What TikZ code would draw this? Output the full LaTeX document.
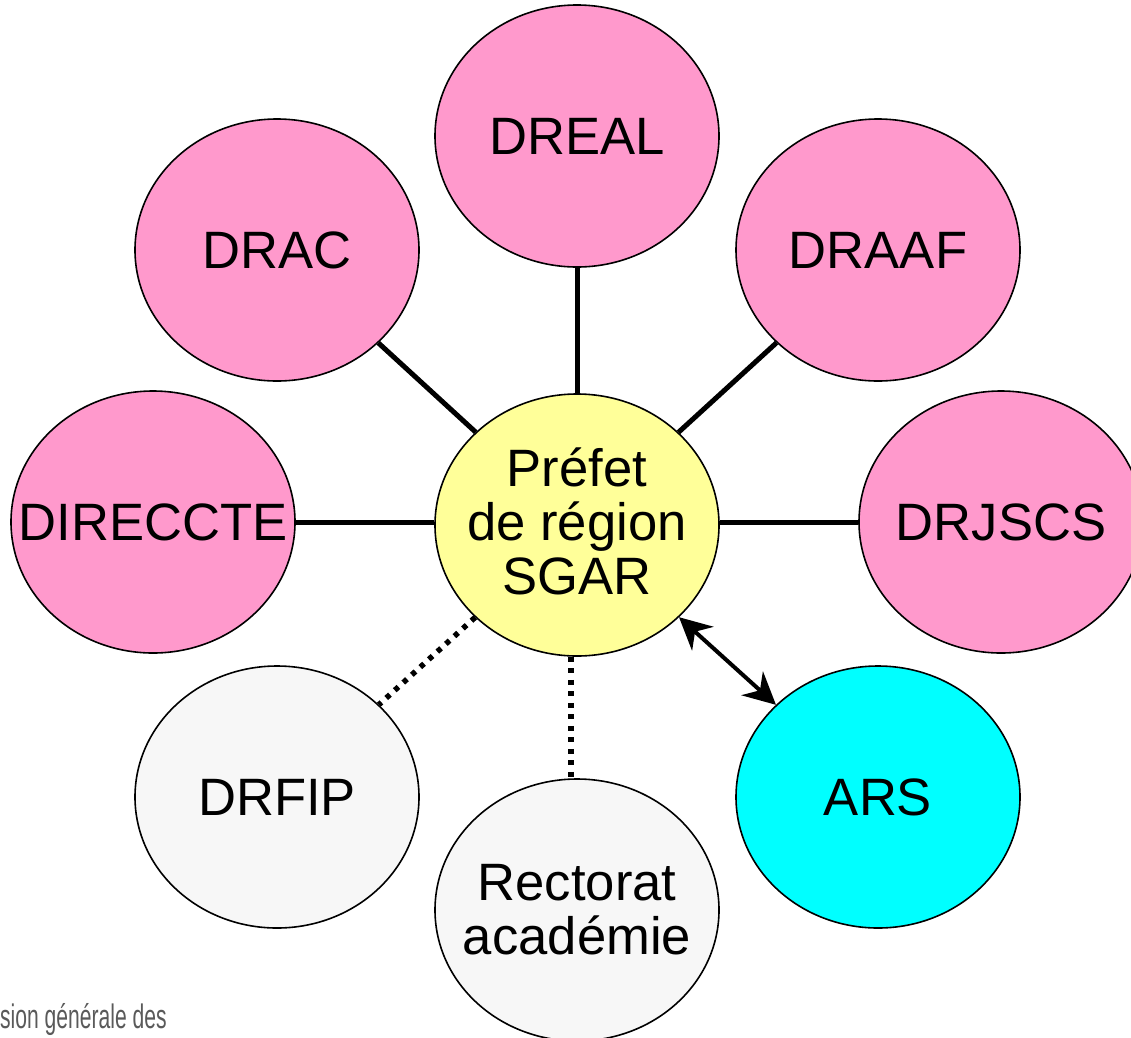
\documentclass[tikz,border=0pt]{standalone}
\usepackage{fontspec}
\setmainfont{Liberation Sans}
\usetikzlibrary{shapes.geometric,arrows.meta}
\definecolor{rose}{HTML}{FF99CC}
\definecolor{jaune}{HTML}{FFFF99}
\definecolor{cyanb}{HTML}{00FFFF}
\definecolor{grisc}{HTML}{F7F7F7}
\definecolor{griste}{HTML}{5A5A5A}
\begin{document}
\begin{tikzpicture}[x=1pt,y=-1pt,
  ell/.style={ellipse,draw=black,line width=1.6pt,minimum width=284pt,minimum height=262pt,inner sep=0pt},
  lbl/.style={font=\fontsize{52.6}{54}\selectfont,align=center,inner sep=0pt},
  link/.style={line width=5pt},
  dots/.style={line width=5.5pt,dash pattern=on 5pt off 6.5pt},
  dbl/.style={line width=4pt,{Stealth[length=32pt,width=32pt]}-{Stealth[length=32pt,width=32pt]}}]
\useasboundingbox (0,0) rectangle (1131,1037);
\node[ell,fill=rose] (dreal) at (577,136) {};
\node[ell,fill=rose] (drac) at (277,250) {};
\node[ell,fill=rose] (draaf) at (878,250) {};
\node[ell,fill=rose] (direccte) at (153,522) {};
\node[ell,fill=rose] (drjscs) at (1001,522) {};
\node[ell,fill=jaune] (pref) at (577,525) {};
\node[ell,fill=grisc] (drfip) at (277,797) {};
\node[ell,fill=cyanb] (ars) at (878,797) {};
\node[ell,fill=grisc] (rect) at (577,910) {};
\node[lbl] (tdreal) at (dreal) {DREAL};
\node[lbl] (tdrac) at (drac) {DRAC};
\node[lbl] (tdraaf) at (draaf) {DRAAF};
\node[lbl] (tdireccte) at (direccte) {DIRECCTE};
\node[lbl] (tdrjscs) at (drjscs) {DRJSCS};
\node[lbl] (tpref) at ([yshift=4pt]pref.center) {Préfet\\de région\\SGAR};
\node[lbl] (tdrfip) at (drfip) {DRFIP};
\node[lbl] (tars) at (ars) {ARS};
\node[lbl] (trect) at (rect) {Rectorat\\académie};
\draw[link] (pref) -- (dreal);
\draw[link] (pref) -- (drac);
\draw[link] (pref) -- (draaf);
\draw[link] (direccte.east) -- (pref.west |- direccte.east);
\draw[link] (drjscs.west) -- (pref.east |- drjscs.west);
\draw[dots] (pref) -- (drfip);
\draw[dots] ([xshift=-6pt]pref.south) -- ([xshift=-6pt]rect.north);
\draw[dbl] (pref) -- (ars);
\node[anchor=base west,inner sep=0pt,text=griste] (src) at (0,1028) {\scalebox{0.62}[1]{\fontsize{34}{34}\selectfont sion générale des}};
\end{tikzpicture}
\end{document}
